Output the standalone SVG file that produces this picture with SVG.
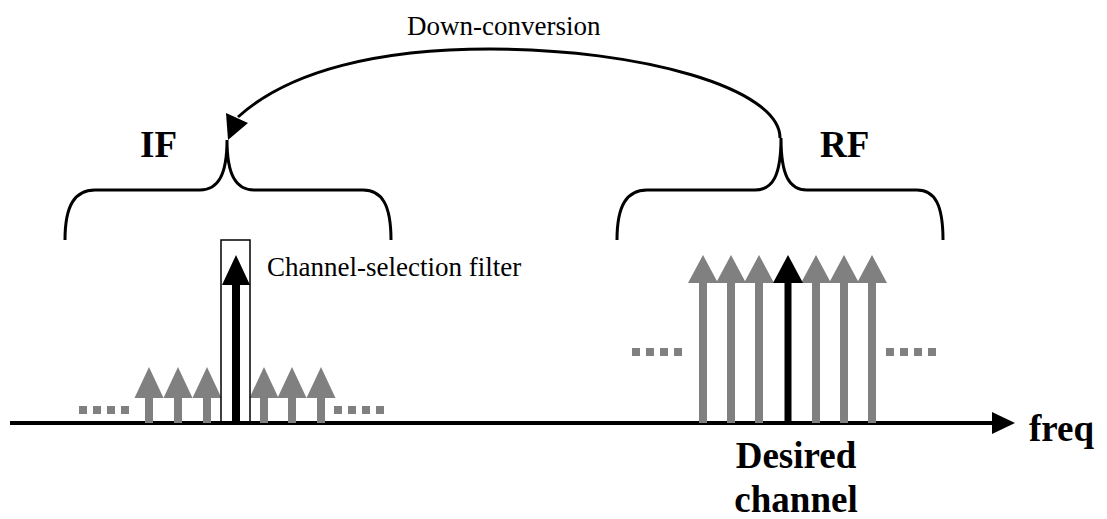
<svg xmlns="http://www.w3.org/2000/svg" xmlns:xlink="http://www.w3.org/1999/xlink" width="1107" height="519" viewBox="0 0 1107 519">
<style>
.serif{font-family:"Liberation Serif","Times New Roman",serif;fill:#000}
.lbl{font-size:27px}
.big{font-size:37px;font-weight:bold}
.line{fill:none;stroke:#000;stroke-width:3}
.dots{stroke:#808080;stroke-width:8;stroke-dasharray:8 6;fill:none}
.gray{fill:#808080}
.blk{fill:#000}
</style>
<defs>
<g id="rfGray"><polygon class="gray" points="-15,283 0,255 15,283"/><rect class="gray" x="-4" y="283" width="8" height="140"/></g>
<g id="ifGray"><polygon class="gray" points="-14.5,398 0,367 14.5,398"/><rect class="gray" x="-4" y="398" width="8" height="25"/></g>
</defs>
<rect width="1107" height="519" fill="#fff"/>

<g id="axis">
<line x1="10" y1="423" x2="995" y2="423" stroke="#000" stroke-width="4"/>
<polygon class="blk" points="992,412 1015,423 992,434"/>
<text class="serif big" x="1029" y="441">freq</text>
</g>

<g id="if-band">
<path class="line" d="M65,240 C65,205 75,190 95,190 L200,190 C218,190 227,175 227,140 C227,175 236,190 254,190 L363,190 C382,190 391,205 391,240"/>
<text class="serif big" x="140" y="157">IF</text>
<line class="dots" x1="79" y1="410" x2="129" y2="410"/>
<line class="dots" x1="334" y1="410" x2="384" y2="410"/>
<use xlink:href="#ifGray" x="149"/>
<use xlink:href="#ifGray" x="178"/>
<use xlink:href="#ifGray" x="207"/>
<use xlink:href="#ifGray" x="264"/>
<use xlink:href="#ifGray" x="292"/>
<use xlink:href="#ifGray" x="321"/>
</g>

<g id="filter">
<rect x="221" y="240" width="29" height="183" fill="none" stroke="#000" stroke-width="1.5"/>
<polygon class="blk" points="222,285 236,255 250,285"/>
<rect class="blk" x="232" y="285" width="8" height="138"/>
<text class="serif lbl" x="267" y="276">Channel-selection filter</text>
</g>

<g id="rf-band">
<path class="line" d="M617,240 C617,205 627,190 647,190 L755,190 C773,190 781,175 781,138 C781,175 789,190 807,190 L917,190 C935,190 943,205 943,240"/>
<text class="serif big" x="820" y="157">RF</text>
<line class="dots" x1="632" y1="352" x2="682" y2="352"/>
<line class="dots" x1="886" y1="352" x2="936" y2="352"/>
<use xlink:href="#rfGray" x="703"/>
<use xlink:href="#rfGray" x="731"/>
<use xlink:href="#rfGray" x="759"/>
<use xlink:href="#rfGray" x="816"/>
<use xlink:href="#rfGray" x="844"/>
<use xlink:href="#rfGray" x="872"/>
</g>

<g id="desired">
<polygon class="blk" points="773,283 788,255 803,283"/>
<rect class="blk" x="784.5" y="283" width="7" height="140"/>
<text class="serif big" x="796" y="468" text-anchor="middle">Desired</text>
<text class="serif big" x="796" y="512" text-anchor="middle">channel</text>
</g>

<g id="connectors">
<path class="line" d="M780,138 C780,88 640,49 490,49 C380,49 290,70 238,117"/>
<polygon class="blk" points="226,113 248,123 228,140"/>
<text class="serif lbl" x="407" y="35">Down-conversion</text>
</g>
</svg>
